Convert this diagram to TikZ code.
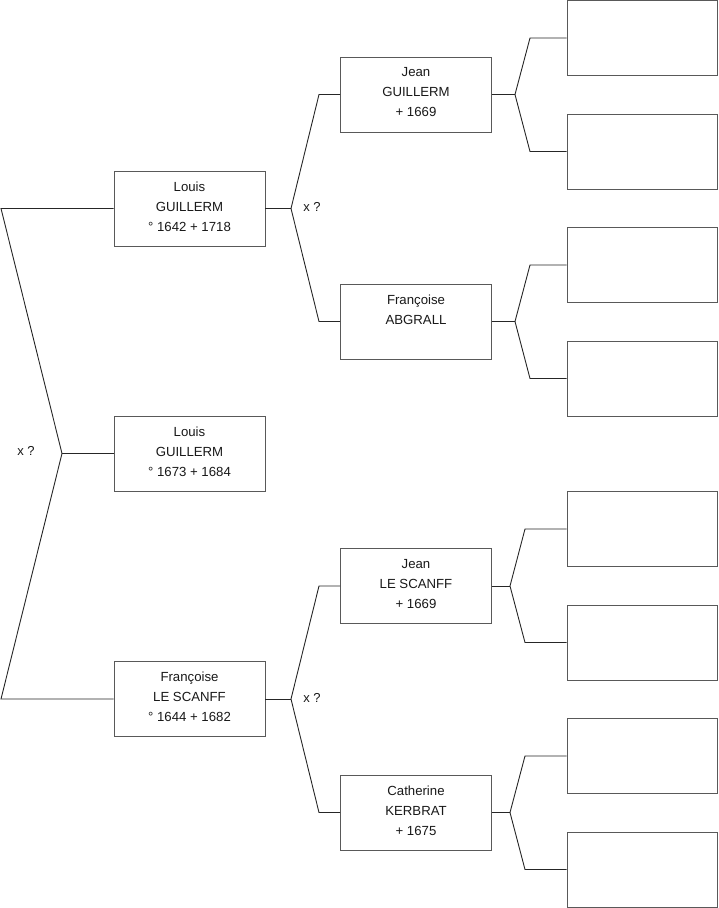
\documentclass[tikz,border=0pt]{standalone}
\usepackage{fontspec}
\setmainfont{Liberation Sans}
\begin{document}
\begin{tikzpicture}[x=1pt,y=-1pt,
  person/.style={draw=black!65, line width=0.9pt, minimum width=151pt, minimum height=75pt, inner sep=0pt, fill=white},
  ptext/.style={anchor=north, align=center, font=\fontsize{13.2}{20}\selectfont, inner sep=0pt, text=black!90},
  conn/.style={draw=black!85, line width=0.9pt},
  marriage/.style={font=\fontsize{13}{14}\selectfont, inner sep=0pt, text=black!90}]
\useasboundingbox (0,0) rectangle (719,908);
% generation 1
\node[person] (g1a) at (189.5,208.5) {};
\node[person] (g1b) at (189.5,453.5) {};
\node[person] (g1c) at (189.5,699) {};
% generation 2
\node[person] (g2a) at (416,94.5) {};
\node[person] (g2b) at (416,321.5) {};
\node[person] (g2c) at (416,586) {};
\node[person] (g2d) at (416,812.5) {};
% generation 3 (empty)
\node[person,minimum width=150pt] (g3a) at (642,38) {};
\node[person,minimum width=150pt] (g3b) at (642,151.5) {};
\node[person,minimum width=150pt] (g3c) at (642,265) {};
\node[person,minimum width=150pt] (g3d) at (642,378.5) {};
\node[person,minimum width=150pt] (g3e) at (642,529) {};
\node[person,minimum width=150pt] (g3f) at (642,642.5) {};
\node[person,minimum width=150pt] (g3g) at (642,756) {};
\node[person,minimum width=150pt] (g3h) at (642,869.5) {};
% texts
\node[ptext] (t1a) at ([yshift=-11pt]g1a.north) {Louis\\GUILLERM\\° 1642 + 1718};
\node[ptext] (t1b) at ([yshift=-11pt]g1b.north) {Louis\\GUILLERM\\° 1673 + 1684};
\node[ptext] (t1c) at ([yshift=-11pt]g1c.north) {Françoise\\LE SCANFF\\° 1644 + 1682};
\node[ptext] (t2a) at ([yshift=-11pt]g2a.north) {Jean\\GUILLERM\\+ 1669};
\node[ptext] (t2b) at ([yshift=-11pt]g2b.north) {Françoise\\ABGRALL};
\node[ptext] (t2c) at ([yshift=-11pt]g2c.north) {Jean\\LE SCANFF\\+ 1669};
\node[ptext] (t2d) at ([yshift=-11pt]g2d.north) {Catherine\\KERBRAT\\+ 1675};
% left bracket
\coordinate (l0t) at (1,208.5);
\coordinate (l0j) at (62,453.5);
\coordinate (l0b) at (1,699);
\draw[conn] (g1a.west) -- (l0t) -- (l0j) -- (l0b) -- (g1c.west);
\draw[conn] (l0j) -- (g1b.west);
\node[marriage] (m0) at (26,451) {x ?};
% g1a parents
\coordinate (j1) at (291,208.5);
\coordinate (c1t) at (319,94.5);
\coordinate (c1b) at (319,321.5);
\draw[conn] (g1a.east) -- (j1);
\draw[conn] (g2a.west) -- (c1t) -- (j1) -- (c1b) -- (g2b.west);
\node[marriage] (m1) at (312,207) {x ?};
% g1c parents
\coordinate (j2) at (291,699);
\coordinate (c2t) at (319,586);
\coordinate (c2b) at (319,812.5);
\draw[conn] (g1c.east) -- (j2);
\draw[conn] (g2c.west) -- (c2t) -- (j2) -- (c2b) -- (g2d.west);
\node[marriage] (m2) at (312,698) {x ?};
% g2a parents
\coordinate (j3) at (515,94.5);
\coordinate (c3t) at (530,38);
\coordinate (c3b) at (530,151.5);
\draw[conn] (g2a.east) -- (j3);
\draw[conn] (g3a.west) -- (c3t) -- (j3) -- (c3b) -- (g3b.west);
% g2b parents
\coordinate (j4) at (515,321.5);
\coordinate (c4t) at (530,265);
\coordinate (c4b) at (530,378.5);
\draw[conn] (g2b.east) -- (j4);
\draw[conn] (g3c.west) -- (c4t) -- (j4) -- (c4b) -- (g3d.west);
% g2c parents
\coordinate (j5) at (510,586);
\coordinate (c5t) at (525,529);
\coordinate (c5b) at (525,642.5);
\draw[conn] (g2c.east) -- (j5);
\draw[conn] (g3e.west) -- (c5t) -- (j5) -- (c5b) -- (g3f.west);
% g2d parents
\coordinate (j6) at (510,812.5);
\coordinate (c6t) at (525,756);
\coordinate (c6b) at (525,869.5);
\draw[conn] (g2d.east) -- (j6);
\draw[conn] (g3g.west) -- (c6t) -- (j6) -- (c6b) -- (g3h.west);
\end{tikzpicture}
\end{document}
